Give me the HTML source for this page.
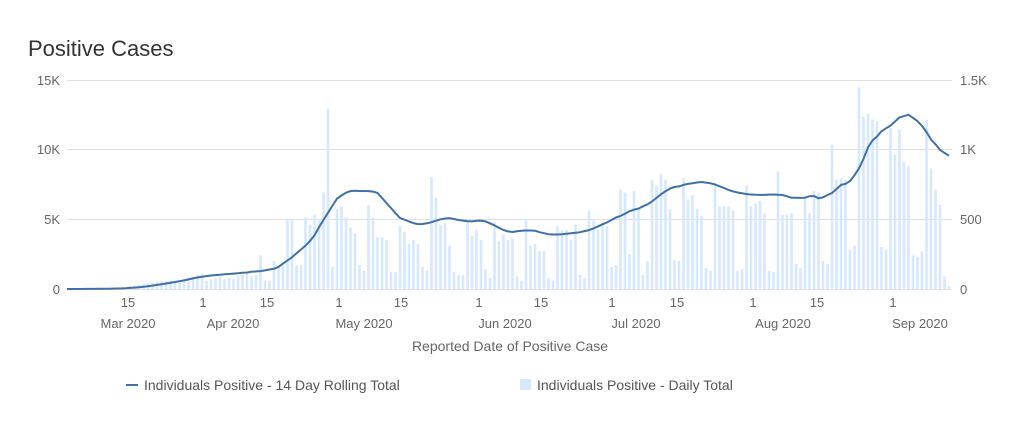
<!DOCTYPE html>
<html><head><meta charset="utf-8"><style>
body{margin:0;background:#fff;width:1022px;height:429px;overflow:hidden;font-family:"Liberation Sans",sans-serif}
</style></head><body>
<svg id="s" width="1022" height="429" xmlns="http://www.w3.org/2000/svg" font-family="Liberation Sans, sans-serif">
<text x="28" y="56" font-size="22" fill="#333">Positive Cases</text>
<g stroke="#e0e0e0" stroke-width="1">
<line x1="67" x2="952" y1="80.5" y2="80.5"/><line x1="67" x2="952" y1="149.5" y2="149.5"/>
<line x1="67" x2="952" y1="219.5" y2="219.5"/><line x1="67" x2="952" y1="289.5" y2="289.5"/>
</g>
<g font-size="13" fill="#666" text-anchor="end">
<text x="60" y="85">15K</text><text x="60" y="154">10K</text><text x="60" y="224">5K</text><text x="60" y="294">0</text>
</g>
<g font-size="13" fill="#666">
<text x="960" y="85">1.5K</text><text x="960" y="154">1K</text><text x="960" y="224">500</text><text x="960" y="294">0</text>
</g>
<g id="bars" fill="#d6e8fd"></g>
<path id="ln" fill="none" stroke="#3f71a6" stroke-width="2" stroke-linejoin="round"/>
<g font-size="13" fill="#666" text-anchor="middle">
<text x="128" y="307">15</text><text x="203" y="307">1</text><text x="267" y="307">15</text><text x="339" y="307">1</text>
<text x="401" y="307">15</text><text x="479" y="307">1</text><text x="541" y="307">15</text><text x="612" y="307">1</text>
<text x="677" y="307">15</text><text x="753" y="307">1</text><text x="817" y="307">15</text><text x="893" y="307">1</text>
<text x="128" y="328">Mar 2020</text><text x="233" y="328">Apr 2020</text><text x="364" y="328">May 2020</text>
<text x="505" y="328">Jun 2020</text><text x="636" y="328">Jul 2020</text><text x="783" y="328">Aug 2020</text><text x="920" y="328">Sep 2020</text>
<text x="510" y="351" font-size="14">Reported Date of Positive Case</text>
</g>
<line x1="126" x2="138" y1="385" y2="385" stroke="#3f71a6" stroke-width="2"/>
<text x="144" y="390" font-size="14" fill="#555">Individuals Positive - 14 Day Rolling Total</text>
<rect x="520" y="379" width="11" height="11" fill="#d6e8fd"/>
<text x="537" y="390" font-size="14" fill="#555">Individuals Positive - Daily Total</text>
</svg>
<script>
var v=[0,0,1,1,2,2,3,3,4,5,5,6,8,10,
20,25,30,35,40,45,50,55,55,60,55,60,70,80,90,100,110,
60,70,80,90,70,80,70,90,100,110,90,100,240,60,60,200,170,170,500,500,170,170,510,460,530,490,690,1290,160,570,
590,510,440,400,170,130,600,510,370,370,350,120,120,450,410,320,350,320,160,130,800,650,460,470,310,120,100,100,480,380,420,
350,140,80,480,340,390,350,360,90,60,490,310,320,270,270,80,60,450,420,420,350,460,100,80,560,490,420,480,450,160,
170,710,690,250,700,580,100,200,780,740,820,780,570,210,200,790,640,670,570,520,150,130,760,590,590,590,560,130,140,740,590,
610,630,540,130,120,840,530,530,540,180,150,660,540,700,690,200,180,1030,780,790,780,280,310,1440,1230,1250,1210,1200,300,280,1150,
960,1140,910,880,240,230,270,1210,860,710,600,90,20];
var b='',p='',S=[];
for(var i=0;i<v.length;i++){var x=67+i*4.5,h=v[i]*0.14;
b+='<rect x="'+(x-1.3).toFixed(1)+'" y="'+(289-h).toFixed(1)+'" width="2.6" height="'+h.toFixed(1)+'"/>';
var s=0;for(var j=Math.max(0,i-13);j<=i;j++)s+=v[j];S.push(s);}
for(var i=0;i<S.length;i++){var t=0,n=0;for(var k=Math.max(0,i-2);k<=Math.min(S.length-1,i+2);k++){t+=S[k];n++;}
var x=67+i*4.5;p+=(i?'L':'M')+x.toFixed(1)+','+(289-t/n*0.014).toFixed(1);}
document.getElementById('bars').innerHTML=b;
document.getElementById('ln').setAttribute('d',p);
</script>
</body></html>
